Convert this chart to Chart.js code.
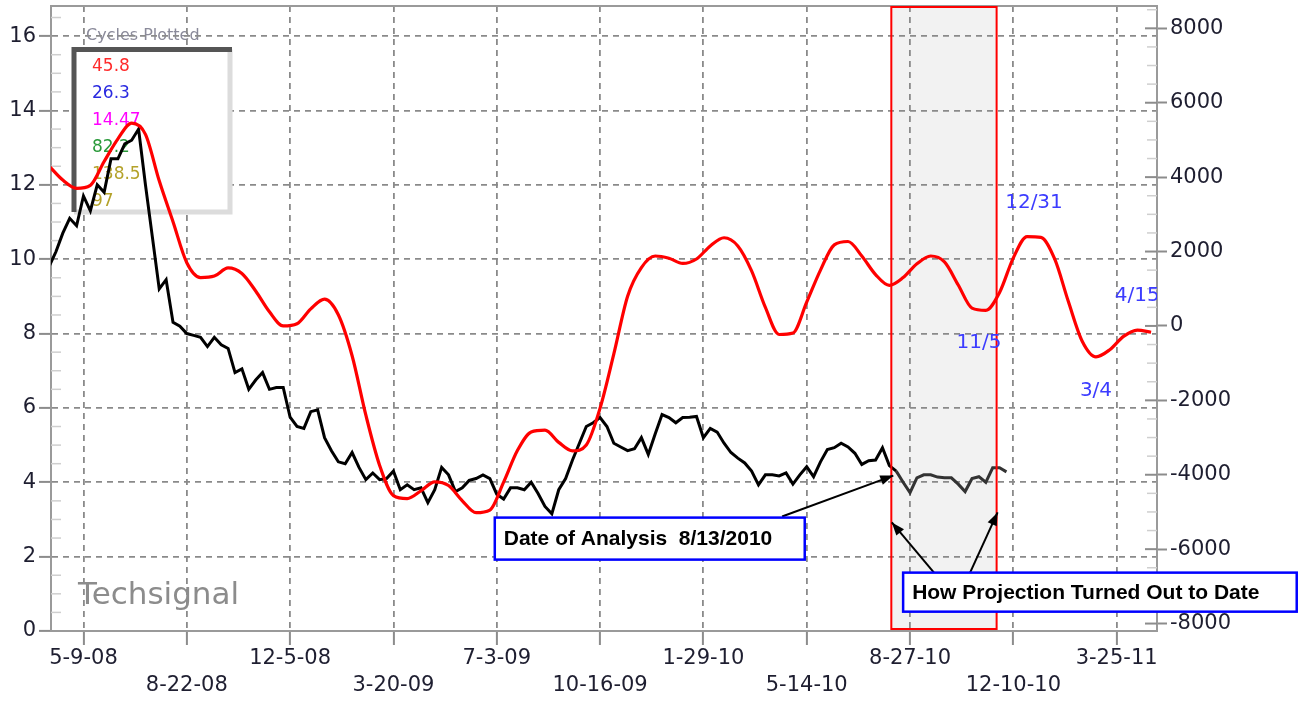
<!DOCTYPE html>
<html>
<head>
<meta charset="utf-8">
<script src="https://cdn.jsdelivr.net/npm/chart.js@4.4.1/dist/chart.umd.min.js"></script>
<style>
  html, body { margin: 0; padding: 0; background: #fff; }
  #wrap { width: 1299px; height: 702px; position: relative; }
</style>
</head>
<body>
<div id="wrap"><canvas id="grafico"></canvas></div>
<script>
// weekly closes (Fridays) from 4-4-08, left axis
const blackStart = "4-4-08";
const blackValues = [
  9.8, 10.2, 10.7, 11.1, 10.9, 11.7, 11.3, 12.0, 11.8, 12.7,
  12.7, 13.1, 13.2, 13.5, 12.0, 10.6, 9.2, 9.45, 8.3, 8.2,
  8.0, 7.95, 7.9, 7.65, 7.9, 7.7, 7.6, 6.95, 7.05, 6.5,
  6.75, 6.95, 6.5, 6.55, 6.55, 5.75, 5.5, 5.45, 5.9, 5.95,
  5.2, 4.85, 4.55, 4.5, 4.8, 4.4, 4.07, 4.25, 4.07, 4.1,
  4.3, 3.8, 3.93, 3.8, 3.85, 3.45, 3.8, 4.4, 4.2, 3.75,
  3.85, 4.05, 4.1, 4.2, 4.1, 3.68, 3.55, 3.85, 3.85, 3.8,
  4.0, 3.7, 3.35, 3.15, 3.8, 4.1, 4.6, 5.05, 5.5, 5.6,
  5.74, 5.5, 5.05, 4.95, 4.85, 4.9, 5.2, 4.75, 5.3, 5.82,
  5.74, 5.6, 5.74, 5.75, 5.77, 5.2, 5.45, 5.35, 5.05, 4.8,
  4.65, 4.52, 4.3, 3.93, 4.2, 4.2, 4.17, 4.25, 3.95, 4.2,
  4.42, 4.15, 4.55, 4.88, 4.93, 5.05, 4.95, 4.78, 4.48, 4.58,
  4.6, 4.93, 4.45, 4.3, 4.0, 3.72, 4.12, 4.2, 4.2, 4.14,
  4.12, 4.12, 3.95, 3.75, 4.1, 4.15, 4.0, 4.39, 4.39, 4.28
];

// cycle composite, one value every 14 days from 4-4-08, right axis
const redStart = "4-4-08";
const redStep = 14;
const redValues = [
  4300, 3920, 3700, 3780, 4420, 5030, 5450, 5150, 3900, 2800,
  1700, 1300, 1340, 1560, 1410, 940, 380, 0, 60, 460,
  720, 300, -800, -2400, -3750, -4560, -4640, -4430, -4190, -4290,
  -4700, -5020, -4950, -4200, -3350, -2850, -2800, -3130, -3360, -3200,
  -2210, -750, 800, 1570, 1880, 1820, 1680, 1800, 2150, 2370,
  2150, 1480, 500, -230, -190, 640, 1500, 2180, 2270, 1880,
  1380, 1090, 1300, 1670, 1880, 1720, 1100, 480, 420, 900,
  1830, 2400, 2380, 1800, 650, -410, -830, -640, -280, -110,
  -170
];

const xTickLabels = ["5-9-08", "8-22-08", "12-5-08", "3-20-09", "7-3-09", "10-16-09",
                     "1-29-10", "5-14-10", "8-27-10", "12-10-10", "3-25-11"];
const leftTicks = [0, 2, 4, 6, 8, 10, 12, 14, 16];
const rightTicks = [-8000, -6000, -4000, -2000, 0, 2000, 4000, 6000, 8000];

const cyclesPlotted = ["45.8", "26.3", "14.47", "82.2", "138.5", "97"];
const cycleColors = ["#ff2a2a", "#2a2ae0", "#ff00ff", "#2a9a3a", "#b4a22a", "#b4a22a"];

const turnLabels = ["12/31", "11/5", "3/4", "4/15"];
const turnDates = ["12-31-10", "11-5-10", "3-4-11", "4-15-11"];
const turnSide = [-1, 1, 1, -1]; // -1 above the curve, 1 below

const analysisDate = "8-13-10";

const ORIGIN = Date.UTC(2008, 4, 9);
function dayOf(s) {
  const [m, d, y] = s.split("-").map(Number);
  return (Date.UTC(2000 + y, m - 1, d) - ORIGIN) / 864e5;
}

const blackPoints = blackValues.map((v, i) => ({ x: dayOf(blackStart) + 7 * i, y: v }));
const redPoints = redValues.map((v, i) => ({ x: dayOf(redStart) + redStep * i, y: v }));

function redAt(day) {
  const f = (day - dayOf(redStart)) / redStep;
  const i = Math.floor(f), t = f - i;
  return redValues[i] + (redValues[i + 1] - redValues[i]) * t;
}

function arrow(ctx, x1, y1, x2, y2) {
  ctx.beginPath(); ctx.moveTo(x1, y1); ctx.lineTo(x2, y2); ctx.stroke();
  const a = Math.atan2(y2 - y1, x2 - x1), L = 13, W = 5;
  ctx.beginPath();
  ctx.moveTo(x2, y2);
  ctx.lineTo(x2 - L * Math.cos(a) + W * Math.sin(a), y2 - L * Math.sin(a) - W * Math.cos(a));
  ctx.lineTo(x2 - L * Math.cos(a) - W * Math.sin(a), y2 - L * Math.sin(a) + W * Math.cos(a));
  ctx.closePath(); ctx.fill();
}

const decor = {
  id: "decor",
  beforeDraw(c) {
    const ctx = c.ctx, a = c.chartArea, X = c.scales.x;
    ctx.save();
    // projection window shading
    const l = X.getPixelForValue(821), r = X.getPixelForValue(928);
    ctx.fillStyle = "#f2f2f2";
    ctx.fillRect(l, a.top, r - l, a.bottom - 2 - a.top);
    // legend title sits under the grid
    ctx.font = "16px 'DejaVu Sans'";
    ctx.fillStyle = "#8a8a9a";
    ctx.fillText("Cycles Plotted", a.left + 35, a.top + 34);
    ctx.restore();
  },
  beforeDatasetsDraw(c) {
    const ctx = c.ctx, a = c.chartArea, Y = c.scales.y, Y2 = c.scales.y2;
    ctx.save();
    // legend box
    const L = a.left + 23, T = a.top + 43.5, R = a.left + 179, B = a.top + 206;
    ctx.fillStyle = "#fff";
    ctx.fillRect(L, T, R - L, B - T);
    ctx.lineWidth = 5;
    ctx.strokeStyle = "#dcdcdc";
    ctx.beginPath(); ctx.moveTo(R, T); ctx.lineTo(R, B); ctx.lineTo(L, B); ctx.stroke();
    ctx.strokeStyle = "#555";
    ctx.beginPath(); ctx.moveTo(L, B); ctx.lineTo(L, T); ctx.lineTo(R + 2, T); ctx.stroke();
    ctx.font = "17px 'DejaVu Sans'";
    cyclesPlotted.forEach((t, i) => {
      ctx.fillStyle = cycleColors[i];
      ctx.fillText(t, a.left + 41, a.top + 65 + 27 * i);
    });
    // watermark
    ctx.font = "31px 'DejaVu Sans'";
    ctx.fillStyle = "#8c8c8c";
    ctx.fillText("Techsignal", a.left + 27, a.bottom - 27);
    // minor ticks
    ctx.lineWidth = 1.5;
    ctx.strokeStyle = "#cfcfcf";
    for (let v = 0.5; v < Y.max; v += 0.5) {
      if (v % 2 === 0) continue;
      const y = Y.getPixelForValue(v);
      ctx.beginPath(); ctx.moveTo(a.left, y); ctx.lineTo(a.left + 10, y); ctx.stroke();
    }
    for (let v = -8000; v < Y2.max; v += 500) {
      const y = Y2.getPixelForValue(v);
      const major = v % 2000 === 0;
      ctx.strokeStyle = major ? "#8c8c8c" : "#cfcfcf";
      ctx.lineWidth = major ? 2 : 1.5;
      ctx.beginPath(); ctx.moveTo(a.right - (major ? 12 : 10), y); ctx.lineTo(a.right, y); ctx.stroke();
    }
    // top frame
    ctx.strokeStyle = "#9a9a9a";
    ctx.lineWidth = 2;
    ctx.beginPath(); ctx.moveTo(a.left, a.top); ctx.lineTo(a.right, a.top); ctx.stroke();
    ctx.restore();
  },
  afterDatasetsDraw(c) {
    const ctx = c.ctx, a = c.chartArea, X = c.scales.x, Y2 = c.scales.y2;
    ctx.save();
    const l = X.getPixelForValue(821), r = X.getPixelForValue(928);
    ctx.strokeStyle = "#ff0000";
    ctx.lineWidth = 2;
    ctx.strokeRect(l, a.top + 1, r - l, a.bottom - 3 - a.top);
    // turning point dates
    ctx.beginPath(); ctx.rect(a.left, a.top, a.right - a.left, a.bottom - a.top); ctx.clip();
    ctx.font = "20px 'DejaVu Sans'";
    ctx.fillStyle = "#3c3cff";
    ctx.textAlign = "center";
    ctx.textBaseline = "middle";
    turnLabels.forEach((t, i) => {
      const d = dayOf(turnDates[i]);
      ctx.fillText(t, X.getPixelForValue(d), Y2.getPixelForValue(redAt(d)) + 34 * turnSide[i]);
    });
    ctx.restore();
  },
  afterDraw(c) {
    const ctx = c.ctx, X = c.scales.x, Y = c.scales.y;
    const px = d => X.getPixelForValue(d), py = v => Y.getPixelForValue(v);
    ctx.save();
    ctx.strokeStyle = "#000";
    ctx.fillStyle = "#000";
    ctx.lineWidth = 2;
    const ad = dayOf(analysisDate);
    arrow(ctx, px(710), py(3.08), px(ad - 3), py(4.18));
    arrow(ctx, px(865), py(1.55), px(821.5), py(2.92));
    arrow(ctx, px(900.7), py(1.55), px(929), py(3.19));
    const boxes = [
      { text: "Date of Analysis  8/13/2010", d1: 418, d2: 733, v1: 3.05, v2: 1.92 },
      { text: "How Projection Turned Out to Date", d1: 833, d2: 1233, v1: 1.57, v2: 0.52 }
    ];
    ctx.font = "bold 21px 'Liberation Sans'";
    ctx.textBaseline = "middle";
    boxes.forEach(b => {
      const x1 = px(b.d1), x2 = px(b.d2), y1 = py(b.v1), y2 = py(b.v2);
      ctx.fillStyle = "#fff";
      ctx.fillRect(x1, y1, x2 - x1, y2 - y1);
      ctx.strokeStyle = "#0000ff";
      ctx.lineWidth = 2.5;
      ctx.strokeRect(x1, y1, x2 - x1, y2 - y1);
      ctx.fillStyle = "#000";
      ctx.fillText(b.text, x1 + 9, (y1 + y2) / 2 + 1);
    });
    ctx.restore();
  }
};

const gridLine = {
  color: c => (c.tick && c.tick.value === 0 && c.scale.axis === "y") ? "rgba(0,0,0,0)" : "#8a8a8a",
  lineWidth: 1.8,
  tickColor: "#8c8c8c",
  tickWidth: 2,
  tickBorderDash: []
};
const tickFont = { family: "DejaVu Sans", size: 21 };
const axisBorder = { color: "#9a9a9a", width: 2, dash: [6, 5] };
const noPad = s => { s.paddingTop = 0; s.paddingBottom = 0; s.paddingLeft = 0; s.paddingRight = 0; };

new Chart(document.getElementById("grafico"), {
  type: "line",
  data: {
    datasets: [
      {
        label: "Cycle composite",
        data: redPoints,
        yAxisID: "y2",
        borderColor: "#ff0000",
        borderWidth: 3.2,
        pointRadius: 0,
        cubicInterpolationMode: "monotone"
      },
      {
        label: "Price",
        data: blackPoints,
        yAxisID: "y",
        borderColor: "#000",
        borderWidth: 3,
        pointRadius: 0,
        tension: 0,
        segment: {
          borderColor: s => s.p0.parsed.x >= dayOf(analysisDate) ? "#333" : "#000"
        }
      }
    ]
  },
  options: {
    responsive: true,
    maintainAspectRatio: false,
    animation: false,
    layout: { padding: { top: 6, left: 0, right: 0, bottom: 0 } },
    plugins: { legend: { display: false }, tooltip: { enabled: false } },
    scales: {
      x: {
        type: "linear",
        min: dayOf("4-6-08"),
        max: dayOf("5-5-11"),
        afterBuildTicks: s => { s.ticks = xTickLabels.map(t => ({ value: dayOf(t) })); },
        afterFit: s => { s.height = 71; noPad(s); },
        grid: { ...gridLine, tickLength: 14 },
        border: axisBorder,
        ticks: {
          autoSkip: false,
          maxRotation: 0,
          padding: 0,
          color: "#1e1e30",
          font: { ...tickFont, lineHeight: 1.3 },
          callback: (v, i) => i % 2 ? ["", xTickLabels[i]] : [xTickLabels[i]]
        }
      },
      y: {
        position: "left",
        min: 0,
        max: 16.81,
        afterBuildTicks: s => { s.ticks = leftTicks.map(v => ({ value: v })); },
        afterFit: s => { s.width = 51; noPad(s); },
        grid: { ...gridLine, tickLength: 12 },
        border: axisBorder,
        ticks: { autoSkip: false, padding: 3, color: "#1e1e30", font: tickFont }
      },
      y2: {
        position: "right",
        min: -8200,
        max: 8600,
        afterBuildTicks: s => { s.ticks = rightTicks.map(v => ({ value: v })); },
        afterFit: s => { s.width = 142; noPad(s); },
        grid: { drawOnChartArea: false, tickLength: 10, tickColor: "#8c8c8c", tickWidth: 2 },
        border: { color: "#9a9a9a", width: 2 },
        ticks: { autoSkip: false, padding: 3, color: "#1e1e30", font: tickFont, callback: v => String(v) }
      }
    }
  },
  plugins: [decor]
});
</script>
</body>
</html>
